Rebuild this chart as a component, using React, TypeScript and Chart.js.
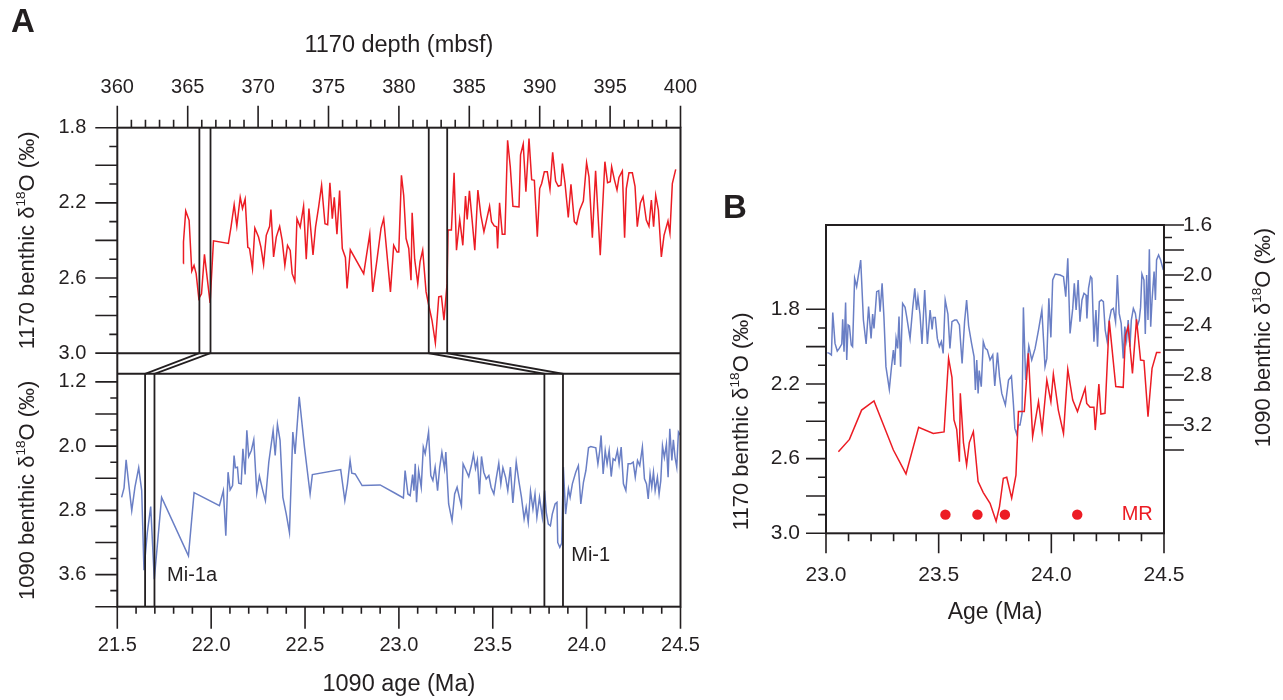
import React, { useEffect, useRef } from 'react';
import { Chart, registerables } from 'chart.js';

Chart.register(...registerables);

const FONT = '"Liberation Sans", Arial, Helvetica, sans-serif';
const INK = '#231f20';
const RED = '#ec1c24';
const BLUE = '#6a7fc5';

// ---------- Panel A, Site 1170 (depth, mbsf) ----------
const site1170Depth = [
  364.69, 364.7, 364.86, 365.1, 365.29, 365.45, 365.6, 365.79, 365.98, 366.19, 366.4, 366.59, 366.83,
  367.89, 368.08, 368.3, 368.49, 368.73, 368.89, 369.08, 369.27, 369.39, 369.6, 369.77, 370.03, 370.2,
  370.39, 370.58, 370.82, 370.91, 371.1, 371.29, 371.53, 371.71, 371.9, 372.09, 372.28, 372.42, 372.61,
  372.76, 372.99, 373.23, 373.42, 373.61, 373.9, 374.08, 374.3, 374.51, 374.75, 374.94, 375.1, 375.27,
  375.41, 375.6, 375.79, 375.98, 376.2, 376.32, 376.55, 377.5, 377.93, 378.14, 378.45, 378.73, 378.92,
  379.4, 379.63, 379.87, 379.99, 380.18, 380.34, 380.51, 380.7, 380.86, 380.94, 381.12, 381.34, 381.5,
  381.69, 381.93, 382.12, 382.35, 382.59, 382.83, 383.02, 383.2, 383.42, 383.49, 383.73, 383.92, 384.09,
  384.32, 384.54, 384.73, 384.85, 385.01, 385.2, 385.39, 385.61, 385.82, 386.04, 386.2, 386.44, 386.58,
  386.77, 386.94, 387.01, 387.15, 387.34, 387.53, 387.72, 387.91, 388.1, 388.53, 388.64, 388.83, 389.02,
  389.24, 389.43, 389.62, 389.83, 390.0, 390.14, 390.33, 390.54, 390.73, 390.92, 391.13, 391.32, 391.51,
  391.61, 391.8, 392.03, 392.22, 392.46, 392.62, 392.84, 393.1, 393.33, 393.5, 393.74, 393.97, 394.3,
  394.63, 394.82, 395.01, 395.11, 395.3, 395.49, 395.63, 395.87, 396.03, 396.15, 396.34, 396.58, 396.77,
  396.93, 397.15, 397.34, 397.57, 397.76, 397.93, 398.09, 398.24, 398.43, 398.64, 398.83, 399.11, 399.25,
  399.42, 399.66,
];
const site1170D18O = [
  2.523, 2.408, 2.243, 2.293, 2.563, 2.533, 2.577, 2.71, 2.684, 2.474, 2.61, 2.733, 2.402,
  2.416, 2.327, 2.21, 2.323, 2.17, 2.23, 2.18, 2.437, 2.443, 2.55, 2.334, 2.382, 2.436,
  2.528, 2.373, 2.325, 2.236, 2.488, 2.382, 2.325, 2.4, 2.533, 2.426, 2.453, 2.577, 2.616,
  2.284, 2.329, 2.218, 2.5, 2.23, 2.477, 2.329, 2.222, 2.106, 2.311, 2.316, 2.093, 2.284,
  2.171, 2.367, 2.135, 2.443, 2.491, 2.656, 2.45, 2.577, 2.367, 2.674, 2.5, 2.336, 2.284,
  2.674, 2.426, 2.462, 2.462, 2.053, 2.16, 2.39, 2.443, 2.612, 2.253, 2.5, 2.63, 2.514,
  2.452, 2.674, 2.745, 2.825, 2.946, 2.7, 2.697, 2.825, 2.63, 2.345, 2.345, 2.04, 2.452,
  2.288, 2.426, 2.164, 2.288, 2.136, 2.292, 2.452, 2.132, 2.265, 2.354, 2.3, 2.218, 2.3,
  2.323, 2.327, 2.443, 2.2, 2.367, 2.367, 1.867, 2.008, 2.218, 2.222, 1.945, 1.887, 2.141,
  1.858, 2.077, 2.08, 2.38, 2.124, 2.097, 2.035, 2.035, 2.128, 1.931, 2.084, 2.112, 2.106,
  1.991, 2.097, 2.278, 2.101, 2.3, 2.313, 2.238, 2.19, 1.986, 2.062, 2.385, 2.03, 2.479,
  1.981, 2.093, 2.088, 2.008, 2.075, 2.132, 2.065, 2.03, 2.385, 2.124, 2.04, 2.04, 2.112,
  2.327, 2.2, 2.167, 2.292, 2.325, 2.185, 2.327, 2.16, 2.238, 2.488, 2.373, 2.297, 2.36,
  2.097, 2.022,
];

// ---------- Panel A, Site 1090 (age, Ma) ----------
const site1090AgeA = [
  21.523, 21.536, 21.547, 21.559, 21.577, 21.594, 21.614, 21.63, 21.642, 21.66, 21.678, 21.697, 21.736,
  21.879, 21.909, 22.044, 22.065, 22.078, 22.09, 22.101, 22.114, 22.122, 22.129, 22.14, 22.147, 22.16,
  22.169, 22.181, 22.19, 22.2, 22.214, 22.227, 22.243, 22.257, 22.275, 22.289, 22.307, 22.33, 22.341,
  22.353, 22.367, 22.382, 22.4, 22.417, 22.435, 22.447, 22.469, 22.497, 22.527, 22.539, 22.69, 22.712,
  22.726, 22.74, 22.749, 22.767, 22.804, 22.9, 22.98, 23.024, 23.033, 23.048, 23.06, 23.073, 23.08,
  23.087, 23.094, 23.105, 23.119, 23.13, 23.14, 23.158, 23.17, 23.181, 23.193, 23.206, 23.217, 23.229,
  23.243, 23.25, 23.265, 23.283, 23.297, 23.31, 23.322, 23.333, 23.342, 23.358, 23.372, 23.386, 23.397,
  23.408, 23.418, 23.429, 23.44, 23.452, 23.465, 23.479, 23.491, 23.506, 23.518, 23.532, 23.543, 23.554,
  23.568, 23.58, 23.594, 23.607, 23.625, 23.639, 23.653, 23.667, 23.678, 23.689, 23.701, 23.714, 23.725,
  23.735, 23.749, 23.764, 23.776, 23.785, 23.796, 23.807, 23.817, 23.832, 23.842, 23.846, 23.857, 23.867,
  23.876, 23.888, 23.903, 23.912, 23.924, 23.942, 23.956, 23.969, 23.983, 23.996, 24.01, 24.022, 24.049,
  24.06, 24.07, 24.077, 24.088, 24.099, 24.109, 24.12, 24.131, 24.141, 24.152, 24.164, 24.173, 24.184,
  24.196, 24.209, 24.221, 24.235, 24.248, 24.259, 24.271, 24.283, 24.297, 24.308, 24.319, 24.328, 24.338,
  24.347, 24.356, 24.365, 24.377, 24.386, 24.395, 24.404, 24.414, 24.425, 24.434, 24.443, 24.454, 24.462,
  24.471, 24.48, 24.489, 24.5,
];
const site1090D18OA = [
  2.638, 2.52, 2.17, 2.43, 2.804, 2.512, 2.27, 2.554, 3.546, 3.075, 2.754, 3.658, 2.638,
  3.367, 2.58, 2.742, 2.554, 3.117, 2.325, 2.546, 2.491, 2.117, 2.27, 2.262, 2.462, 2.47,
  2.033, 2.354, 1.804, 2.129, 2.054, 1.92, 2.58, 2.375, 2.554, 2.679, 2.2, 1.804, 2.117,
  1.729, 1.929, 2.638, 2.846, 3.075, 1.825, 2.096, 1.387, 2.012, 2.596, 2.354, 2.292, 2.679,
  2.47, 2.179, 2.337, 2.346, 2.491, 2.483, 2.587, 2.646, 2.304, 2.596, 2.617, 2.354, 2.554,
  2.221, 2.7, 2.304, 2.512, 2.012, 2.096, 1.825, 2.367, 2.429, 2.262, 2.554, 2.27, 2.075,
  2.279, 2.075, 2.721, 2.929, 2.596, 2.512, 2.638, 2.742, 2.221, 2.304, 2.379, 2.242, 2.104,
  2.279, 2.175, 2.6, 2.129, 2.325, 2.408, 2.367, 2.512, 2.596, 2.408, 2.212, 2.47, 2.27,
  2.387, 2.554, 2.262, 2.708, 2.2, 2.437, 2.638, 2.908, 2.762, 2.95, 2.562, 2.783, 2.596,
  2.887, 2.638, 2.887, 2.554, 2.825, 2.971, 2.992, 2.846, 2.721, 2.7, 3.2, 3.262, 3.212,
  2.262, 2.846, 2.533, 2.638, 2.47, 2.325, 2.242, 2.721, 2.45, 2.304, 2.021, 2.004, 2.021,
  2.221, 2.054, 1.867, 2.346, 2.054, 2.221, 2.054, 2.379, 2.158, 2.179, 2.054, 2.221, 2.012,
  2.47, 2.554, 2.221, 2.221, 2.2, 2.387, 2.179, 2.242, 2.012, 2.408, 2.47, 2.658, 2.346,
  2.512, 2.325, 2.554, 2.387, 2.596, 2.429, 1.996, 2.142, 1.975, 2.387, 1.783, 2.179, 1.921,
  2.142, 2.262, 1.825, 1.867,
];

// ---------- Panel B, Site 1090 on age ----------
const site1090AgeB = [
  23.006, 23.015, 23.024, 23.03, 23.04, 23.05, 23.059, 23.07, 23.074, 23.08, 23.087, 23.092, 23.098,
  23.104, 23.112, 23.118, 23.127, 23.136, 23.145, 23.154, 23.166, 23.178, 23.189, 23.2, 23.207, 23.213,
  23.225, 23.234, 23.24, 23.249, 23.257, 23.266, 23.281, 23.29, 23.299, 23.305, 23.311, 23.318, 23.324,
  23.331, 23.34, 23.351, 23.358, 23.373, 23.385, 23.394, 23.402, 23.408, 23.417, 23.426, 23.438, 23.45,
  23.462, 23.471, 23.476, 23.485, 23.494, 23.503, 23.512, 23.52, 23.529, 23.541, 23.55, 23.559, 23.571,
  23.58, 23.592, 23.604, 23.615, 23.624, 23.633, 23.646, 23.657, 23.663, 23.669, 23.675, 23.68, 23.689,
  23.698, 23.707, 23.716, 23.728, 23.74, 23.749, 23.761, 23.77, 23.78, 23.796, 23.81, 23.823, 23.832,
  23.838, 23.846, 23.854, 23.861, 23.87, 23.876, 23.886, 23.9, 23.913, 23.928, 23.943, 23.958, 23.972,
  23.98, 23.989, 23.998, 24.006, 24.017, 24.039, 24.054, 24.064, 24.073, 24.083, 24.095, 24.102, 24.11,
  24.119, 24.127, 24.136, 24.145, 24.154, 24.158, 24.165, 24.174, 24.18, 24.189, 24.198, 24.205, 24.213,
  24.222, 24.231, 24.239, 24.248, 24.257, 24.266, 24.275, 24.285, 24.293, 24.301, 24.31, 24.319, 24.326,
  24.334, 24.341, 24.349, 24.355, 24.364, 24.373, 24.381, 24.39, 24.396, 24.402, 24.411, 24.417, 24.423,
  24.429, 24.435, 24.441, 24.447, 24.456, 24.462, 24.467, 24.476, 24.485, 24.497,
];
const site1090D18OB = [
  2.621, 2.627, 2.64, 2.301, 2.547, 2.608, 2.587, 2.552, 2.355, 2.613, 2.221, 2.68, 2.4,
  2.408, 2.56, 2.573, 2.027, 2.093, 1.987, 1.88, 2.36, 2.552, 2.253, 2.507, 2.312, 2.427,
  2.133, 2.125, 2.293, 2.067, 2.333, 2.733, 2.915, 2.747, 2.6, 2.72, 2.507, 2.587, 2.333,
  2.733, 2.227, 2.259, 2.333, 2.507, 2.259, 2.107, 2.28, 2.179, 2.312, 2.552, 2.12, 2.552,
  2.28, 2.435, 2.339, 2.339, 2.507, 2.573, 2.533, 2.627, 2.2, 2.312, 2.587, 2.373, 2.36,
  2.36, 2.4, 2.707, 2.373, 2.2, 2.408, 2.547, 2.653, 2.92, 2.68, 2.947, 2.765, 2.893,
  2.533, 2.587, 2.6, 2.68, 2.64, 2.888, 2.621, 2.813, 2.947, 3.04, 2.84, 2.808, 3.04,
  3.227, 3.272, 3.2, 3.2, 3.107, 2.259, 2.84, 2.568, 2.68, 2.587, 2.44, 2.28, 2.733,
  2.667, 2.187, 2.499, 2.04, 1.992, 2.0, 2.013, 2.173, 1.867, 2.467, 2.267, 2.067, 2.28,
  2.04, 2.373, 2.2, 2.147, 2.16, 2.347, 2.107, 2.013, 2.027, 2.533, 2.28, 2.573, 2.213,
  2.2, 2.213, 2.44, 2.533, 2.36, 2.28, 2.267, 2.373, 2.0, 2.307, 2.387, 2.667, 2.413,
  2.52, 2.36, 2.573, 2.36, 2.267, 2.307, 2.413, 2.36, 2.259, 1.992, 2.04, 2.472, 2.0,
  2.36, 1.795, 2.413, 2.2, 1.973, 2.2, 1.88, 1.84, 1.88, 1.96,
];

// ---------- Panel B, Site 1170 on age ----------
const site1170AgeB = [
  23.055, 23.104, 23.158, 23.213, 23.299, 23.355, 23.411, 23.476, 23.524, 23.544, 23.559, 23.568, 23.58,
  23.592, 23.596, 23.61, 23.624, 23.636, 23.654, 23.675, 23.698, 23.728, 23.755, 23.77, 23.787, 23.802,
  23.824, 23.843, 23.854, 23.87, 23.88, 23.898, 23.917, 23.943, 23.959, 23.98, 23.998, 24.009, 24.031,
  24.054, 24.073, 24.095, 24.116, 24.15, 24.157, 24.172, 24.189, 24.195, 24.211, 24.22, 24.238, 24.257,
  24.286, 24.319, 24.329, 24.341, 24.36, 24.378, 24.396, 24.411, 24.429, 24.447, 24.467, 24.485,
];
const site1170D18OB = [
  2.563, 2.497, 2.34, 2.291, 2.554, 2.682, 2.432, 2.465, 2.457, 2.063, 2.165, 2.393, 2.443,
  2.616, 2.25, 2.514, 2.634, 2.514, 2.455, 2.723, 2.782, 2.839, 2.935, 2.857, 2.705, 2.7,
  2.812, 2.688, 2.348, 2.348, 2.348, 2.036, 2.482, 2.295, 2.45, 2.179, 2.295, 2.147, 2.34,
  2.465, 2.122, 2.286, 2.348, 2.223, 2.304, 2.325, 2.325, 2.447, 2.2, 2.361, 2.357, 1.861,
  2.214, 2.218, 1.938, 1.893, 2.143, 1.854, 2.072, 2.075, 2.375, 2.116, 2.032, 2.032,
];

// ---------- Markers, ties and ticks ----------
const mrAges = [23.53, 23.672, 23.794, 24.115];
const MR_LEVEL = 2.9;
const tieDepths = [[365.83, 366.62], [382.12, 383.43]];
const tieAges = [[21.648, 21.698], [23.775, 23.874]];
const eventLabels = [
  { text: 'Mi-1a', age: 21.765, value: 3.616 },
  { text: 'Mi-1', age: 23.918, value: 3.366 },
];

const depthTicks = [360, 365, 370, 375, 380, 385, 390, 395, 400];
const ageTicksA = [21.5, 22.0, 22.5, 23.0, 23.5, 24.0, 24.5];
const d18O1170TicksA = [1.8, 2.2, 2.6, 3.0];
const d18O1090TicksA = [1.2, 2.0, 2.8, 3.6];
const ageTicksB = [23.0, 23.5, 24.0, 24.5];
const d18O1170TicksB = [1.8, 2.2, 2.6, 3.0];
const d18O1090TicksB = [1.6, 2.0, 2.4, 2.8, 3.2];

const titleParts = (site: string) => [
  { t: `${site} benthic δ` },
  { t: '18', sup: true },
  { t: 'O (‰)' },
];

function drawRich(ctx: CanvasRenderingContext2D, parts: any[], x: number, y: number, size: number, rotate: boolean, color: string) {
  ctx.save();
  ctx.translate(x, y);
  if (rotate) ctx.rotate(-Math.PI / 2);
  const supSize = size * 0.62;
  const widths = parts.map((p) => {
    ctx.font = `${p.sup ? supSize : size}px ${FONT}`;
    return ctx.measureText(p.t).width;
  });
  const total = widths.reduce((a, b) => a + b, 0);
  let cx = -total / 2;
  ctx.fillStyle = color;
  ctx.textAlign = 'left';
  ctx.textBaseline = 'alphabetic';
  parts.forEach((p, i) => {
    ctx.font = `${p.sup ? supSize : size}px ${FONT}`;
    ctx.fillText(p.t, cx, p.sup ? size * 0.36 - size * 0.4 : size * 0.36);
    cx += widths[i];
  });
  ctx.restore();
}

type TickSpec = { id: string; side: 'top' | 'bottom' | 'left' | 'right'; from: number; to: number; step: number; major: number; long: number; short: number };

function drawTickMarks(chart: any, specs: TickSpec[]) {
  const ctx = chart.ctx;
  const ca = chart.chartArea;
  ctx.save();
  ctx.strokeStyle = INK;
  ctx.lineWidth = 1.6;
  ctx.beginPath();
  specs.forEach((s) => {
    const scale = chart.scales[s.id];
    const n0 = Math.round(s.from / s.step);
    const n1 = Math.round(s.to / s.step);
    for (let k = n0; k <= n1; k++) {
      const v = k * s.step;
      const r = v / s.major;
      const len = Math.abs(r - Math.round(r)) < 1e-6 ? s.long : s.short;
      const p = scale.getPixelForValue(v);
      if (s.side === 'top') { ctx.moveTo(p, ca.top); ctx.lineTo(p, ca.top - len); }
      if (s.side === 'bottom') { ctx.moveTo(p, ca.bottom); ctx.lineTo(p, ca.bottom + len); }
      if (s.side === 'left') { ctx.moveTo(ca.left, p); ctx.lineTo(ca.left - len, p); }
      if (s.side === 'right') { ctx.moveTo(ca.right, p); ctx.lineTo(ca.right + len, p); }
    }
  });
  ctx.stroke();
  ctx.restore();
}

const setTicks = (arr: number[]) => (scale: any) => {
  scale.ticks = arr.map((value) => ({ value }));
};

const fixSize = (dim: 'width' | 'height', size: number) => (sc: any) => {
  sc[dim] = size;
  sc.paddingLeft = 0;
  sc.paddingRight = 0;
  sc.paddingTop = 0;
  sc.paddingBottom = 0;
};

const panelAPlugin = {
  id: 'panelA',
  afterDraw(chart: any) {
    const { ctx, chartArea: ca, scales: s } = chart;
    ctx.save();
    ctx.strokeStyle = INK;
    ctx.lineWidth = 2;
    ctx.strokeRect(ca.left, ca.top, ca.right - ca.left, ca.bottom - ca.top);
    ctx.beginPath();
    [s.y1170.bottom, s.y1090.top].forEach((y: number) => { ctx.moveTo(ca.left, y); ctx.lineTo(ca.right, y); });
    ctx.stroke();
    ctx.lineWidth = 1.8;
    tieDepths.forEach((pair, i) => pair.forEach((d, j) => {
      const x1 = s.xDepth.getPixelForValue(d);
      const x2 = s.xAge.getPixelForValue(tieAges[i][j]);
      ctx.beginPath();
      ctx.moveTo(x1, s.y1170.top);
      ctx.lineTo(x1, s.y1170.bottom);
      ctx.lineTo(x2, s.y1090.top);
      ctx.lineTo(x2, s.y1090.bottom);
      ctx.stroke();
    }));
    ctx.fillStyle = INK;
    ctx.font = `20px ${FONT}`;
    ctx.textAlign = 'left';
    ctx.textBaseline = 'middle';
    eventLabels.forEach((l) => {
      ctx.fillText(l.text, s.xAge.getPixelForValue(l.age), s.y1090.getPixelForValue(l.value));
    });
    ctx.font = `bold 33px ${FONT}`;
    ctx.textBaseline = 'alphabetic';
    ctx.fillText('A', 11, 32);
    ctx.restore();
    drawTickMarks(chart, [
      { id: 'xDepth', side: 'top', from: 360, to: 400, step: 1, major: 5, long: 22, short: 8 },
      { id: 'xAge', side: 'bottom', from: 21.5, to: 24.5, step: 0.1, major: 0.5, long: 22, short: 7 },
      { id: 'y1170', side: 'left', from: 1.8, to: 3.0, step: 0.1, major: 0.2, long: 22, short: 8 },
      { id: 'y1090', side: 'left', from: 1.2, to: 4.0, step: 0.2, major: 0.4, long: 22, short: 7 },
    ]);
    const yc1 = (s.y1170.top + s.y1170.bottom) / 2;
    const yc2 = (s.y1090.top + s.y1090.bottom) / 2;
    drawRich(ctx, titleParts('1170'), 26, yc1, 22, true, INK);
    drawRich(ctx, titleParts('1090'), 26, yc2, 22, true, INK);
  },
};

const panelBPlugin = {
  id: 'panelB',
  afterDraw(chart: any) {
    const { ctx, chartArea: ca, scales: s } = chart;
    ctx.save();
    ctx.strokeStyle = INK;
    ctx.lineWidth = 2;
    ctx.strokeRect(ca.left, ca.top, ca.right - ca.left, ca.bottom - ca.top);
    ctx.fillStyle = RED;
    ctx.font = `20px ${FONT}`;
    ctx.textAlign = 'left';
    ctx.textBaseline = 'middle';
    ctx.fillText('MR', s.x.getPixelForValue(24.312), s.yL.getPixelForValue(MR_LEVEL));
    ctx.fillStyle = INK;
    ctx.font = `bold 33px ${FONT}`;
    ctx.textBaseline = 'alphabetic';
    ctx.fillText('B', 3, 218);
    ctx.restore();
    drawTickMarks(chart, [
      { id: 'x', side: 'bottom', from: 23.0, to: 24.5, step: 0.1, major: 0.5, long: 20, short: 8 },
      { id: 'yL', side: 'left', from: 1.8, to: 3.0, step: 0.1, major: 0.2, long: 20, short: 8 },
      { id: 'yR', side: 'right', from: 1.6, to: 3.4, step: 0.1, major: 0.2, long: 20, short: 8 },
    ]);
    const ycL = (s.yL.getPixelForValue(1.8) + s.yL.getPixelForValue(3.0)) / 2;
    const ycR = (s.yR.getPixelForValue(1.6) + s.yR.getPixelForValue(3.4)) / 2;
    drawRich(ctx, titleParts('1170'), 20, ycL, 22, true, INK);
    drawRich(ctx, titleParts('1090'), 542, ycR, 22, true, INK);
  },
};

const noGrid = { display: false, drawTicks: false };
const noBorder = { display: false };
const fmt1 = (v: any) => Number(v).toFixed(1);

function buildPanelA(canvas: HTMLCanvasElement) {
  const tickFont = { family: FONT, size: 20 };
  return new Chart(canvas, {
    type: 'line',
    data: {
      datasets: [
        {
          data: site1170Depth.map((d, i) => ({ x: d, y: site1170D18O[i] })),
          xAxisID: 'xDepth', yAxisID: 'y1170',
          borderColor: RED, borderWidth: 1.5, pointRadius: 0, tension: 0,
        },
        {
          data: site1090AgeA.map((a, i) => ({ x: a, y: site1090D18OA[i] })),
          xAxisID: 'xAge', yAxisID: 'y1090',
          borderColor: BLUE, borderWidth: 1.5, pointRadius: 0, tension: 0,
        },
      ],
    },
    options: {
      animation: false,
      responsive: false,
      devicePixelRatio: 1,
      events: [],
      layout: { padding: { left: 0, right: 39.5, top: 0, bottom: 0 } },
      plugins: { legend: { display: false }, tooltip: { enabled: false } },
      scales: {
        xDepth: {
          type: 'linear', position: 'top', min: 360, max: 400,
          grid: noGrid, border: noBorder,
          ticks: { font: tickFont, color: INK, padding: 28, maxRotation: 0, callback: (v: any) => String(v) },
          afterBuildTicks: setTicks(depthTicks),
          afterFit: fixSize('height', 127.7),
          title: { display: true, text: '1170 depth (mbsf)', color: INK, font: { family: FONT, size: 23.5 }, padding: { top: 31, bottom: 0 } },
        },
        xAge: {
          type: 'linear', position: 'bottom', min: 21.5, max: 24.5,
          grid: noGrid, border: noBorder,
          ticks: { font: tickFont, color: INK, padding: 27, maxRotation: 0, callback: fmt1 },
          afterBuildTicks: setTicks(ageTicksA),
          afterFit: fixSize('height', 93.3),
          title: { display: true, text: '1090 age (Ma)', color: INK, font: { family: FONT, size: 23.5 }, padding: { top: 0, bottom: 1 } },
        },
        y1170: {
          type: 'linear', position: 'left', stack: 'A', stackWeight: 225.3, weight: 3,
          reverse: true, min: 1.8, max: 3.0,
          grid: noGrid, border: noBorder,
          ticks: { font: tickFont, color: INK, padding: 31, callback: fmt1 },
          afterBuildTicks: setTicks(d18O1170TicksA),
          afterFit: fixSize('width', 117.3),
        },
        yGap: {
          type: 'linear', position: 'left', stack: 'A', stackWeight: 20.7, weight: 2,
          min: 0, max: 1,
          grid: noGrid, border: noBorder,
          ticks: { display: false },
          afterFit: fixSize('width', 117.3),
        },
        y1090: {
          type: 'linear', position: 'left', stack: 'A', stackWeight: 232.7, weight: 1,
          reverse: true, min: 1.1, max: 4.0,
          grid: noGrid, border: noBorder,
          ticks: { font: tickFont, color: INK, padding: 31, callback: fmt1 },
          afterBuildTicks: setTicks(d18O1090TicksA),
          afterFit: fixSize('width', 117.3),
        },
      },
    } as any,
    plugins: [panelAPlugin],
  });
}

function buildPanelB(canvas: HTMLCanvasElement) {
  const tickFont = { family: FONT, size: 21 };
  return new Chart(canvas, {
    type: 'line',
    data: {
      datasets: [
        {
          type: 'scatter',
          data: mrAges.map((a) => ({ x: a, y: MR_LEVEL })),
          xAxisID: 'x', yAxisID: 'yL',
          backgroundColor: RED, borderColor: RED, pointRadius: 5.2, borderWidth: 0, showLine: false,
        },
        {
          data: site1170AgeB.map((a, i) => ({ x: a, y: site1170D18OB[i] })),
          xAxisID: 'x', yAxisID: 'yL',
          borderColor: RED, borderWidth: 1.5, pointRadius: 0, tension: 0,
        },
        {
          data: site1090AgeB.map((a, i) => ({ x: a, y: site1090D18OB[i] })),
          xAxisID: 'x', yAxisID: 'yR',
          borderColor: BLUE, borderWidth: 1.5, pointRadius: 0, tension: 0,
        },
      ],
    },
    options: {
      animation: false,
      responsive: false,
      devicePixelRatio: 1,
      events: [],
      layout: { padding: { left: 0, right: 0, top: 225, bottom: 0 } },
      plugins: { legend: { display: false }, tooltip: { enabled: false } },
      scales: {
        x: {
          type: 'linear', position: 'bottom', min: 23.0, max: 24.5,
          grid: noGrid, border: noBorder,
          ticks: { font: tickFont, color: INK, padding: 29, maxRotation: 0, callback: fmt1 },
          afterBuildTicks: setTicks(ageTicksB),
          afterFit: fixSize('height', 166.7),
          title: { display: true, text: 'Age (Ma)', color: INK, font: { family: FONT, size: 23 }, padding: { top: 0, bottom: 74 } },
        },
        yL: {
          type: 'linear', position: 'left', reverse: true, min: 1.3484, max: 3.0,
          grid: noGrid, border: noBorder,
          ticks: { font: tickFont, color: INK, padding: 26, callback: fmt1 },
          afterBuildTicks: setTicks(d18O1170TicksB),
          afterFit: fixSize('width', 106),
        },
        yR: {
          type: 'linear', position: 'right', reverse: true, min: 1.6, max: 4.066,
          grid: noGrid, border: noBorder,
          ticks: { font: tickFont, color: INK, padding: 19, callback: fmt1 },
          afterBuildTicks: setTicks(d18O1090TicksB),
          afterFit: fixSize('width', 119),
        },
      },
    } as any,
    plugins: [panelBPlugin],
  });
}

export default function App() {
  const refA = useRef<HTMLCanvasElement>(null);
  const refB = useRef<HTMLCanvasElement>(null);
  useEffect(() => {
    const a = buildPanelA(refA.current as HTMLCanvasElement);
    const b = buildPanelB(refB.current as HTMLCanvasElement);
    return () => {
      a.destroy();
      b.destroy();
    };
  }, []);
  return (
    <div style={{ position: 'fixed', left: 0, top: 0, width: 1283, height: 700, background: '#ffffff' }}>
      <canvas ref={refA} width={720} height={700} style={{ position: 'absolute', left: 0, top: 0, width: 720, height: 700 }} />
      <canvas ref={refB} width={563} height={700} style={{ position: 'absolute', left: 720, top: 0, width: 563, height: 700 }} />
    </div>
  );
}
